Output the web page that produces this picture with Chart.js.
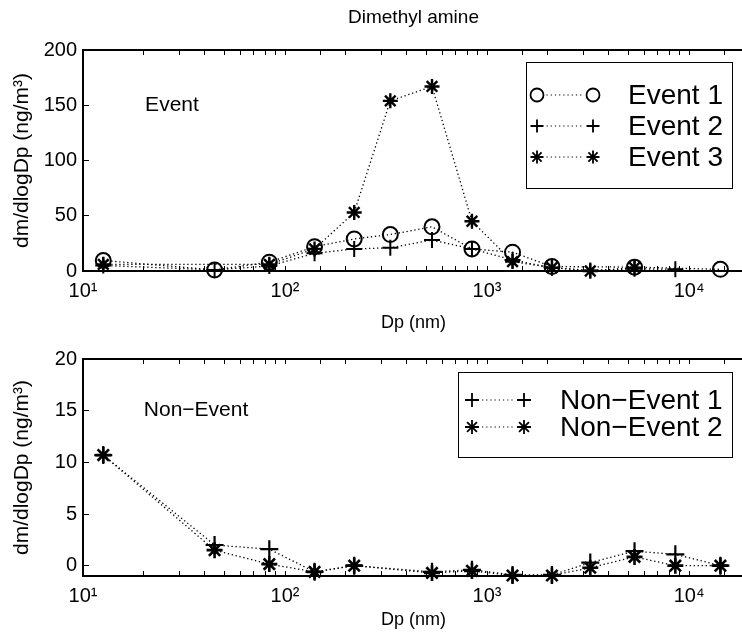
<!DOCTYPE html>
<html>
<head>
<meta charset="utf-8">
<script src="https://cdn.jsdelivr.net/npm/chart.js"></script>
<style>
  html, body { margin: 0; padding: 0; background: #fff; overflow: hidden; }
  #wrap { position: relative; width: 742px; height: 635px; overflow: hidden; }
  canvas { position: absolute; left: 0; }
  #topChart { top: 0; }
  #botChart { top: 335px; }
</style>
</head>
<body>
<div id="wrap">
  <canvas id="topChart" width="757" height="335"></canvas>
  <canvas id="botChart" width="757" height="300"></canvas>
</div>
<script>
// particle diameter (nm) of each stage
const dp = [12.6, 44.8, 83.6, 140, 220, 332, 534, 842, 1337, 2095, 3243, 5370, 8550, 14290];

// event days, dm/dlogDp (ng/m3)
const event1 = [9.5, 1, 8, 22, 29, 33, 40, 20, 17, 4, null, 3.5, null, 1.5];
const event2 = [5, 1, 4.5, 16, 20, 21, 28, 20, 10, 3, 0.5, 2, 1.5, null];
const event3 = [6, null, 6, 20, 53, 154, 167, 45, 8.5, 3, 0, 3, null, null];

// non-event days
const nonEvent1 = [10.7, 2.0, 1.6, -0.6, 0, null, -0.6, -0.4, -0.9, -0.9, 0.3, 1.4, 1.1, 0];
const nonEvent2 = [10.7, 1.5, 0.15, -0.6, 0, null, -0.7, -0.5, -0.95, -0.95, -0.2, 0.85, 0, 0];

// y tick labels of each panel
const yTicksTop = [0, 50, 100, 150, 200];
const yTicksBottom = [0, 5, 10, 15, 20];

const xMin = 10, xMax = 18700;
const family = "'Liberation Sans', Arial, Helvetica, sans-serif";
const sup = { 1: '\u00b9', 2: '\u00b2', 3: '\u00b3', 4: '\u2074' };

Chart.defaults.font.family = family;
Chart.defaults.color = '#000';

// legend drawn as a framed box with two markers joined by a dotted line
const frameLegend = {
  id: 'frameLegend',
  afterDraw(chart, args, o) {
    const { ctx, chartArea } = chart;
    const items = chart.data.datasets;
    ctx.save();
    ctx.font = o.size + 'px ' + family;
    const textW = Math.max(...items.map(d => ctx.measureText(d.label).width));
    const w = Math.round(o.padLeft + o.span + o.gap + textW + o.padRight);
    const h = o.padTop + o.rowH * (items.length - 1) + o.padBottom;
    const left = Math.round(chartArea.right - o.marginRight - w);
    const top = Math.round(chartArea.top + o.marginTop);
    ctx.fillStyle = '#fff';
    ctx.fillRect(left, top, w, h);
    ctx.strokeStyle = '#000';
    ctx.lineWidth = 1;
    ctx.strokeRect(left + 0.5, top + 0.5, w, h);
    items.forEach((d, i) => {
      const y = top + o.padTop + i * o.rowH;
      const x1 = left + o.padLeft, x2 = x1 + o.span;
      ctx.setLineDash([1.2, 3]);
      ctx.lineWidth = 1.2;
      ctx.beginPath();
      ctx.moveTo(x1 + o.markR + 3, y);
      ctx.lineTo(x2 - o.markR - 3, y);
      ctx.stroke();
      ctx.setLineDash([]);
      ctx.lineWidth = 1.8;
      ctx.fillStyle = 'rgba(0,0,0,0)';
      [x1, x2].forEach(x => Chart.helpers.drawPoint(ctx,
        { pointStyle: d.pointStyle, radius: o.markR, borderWidth: 1.8, rotation: 0 }, x, y));
      ctx.fillStyle = '#000';
      ctx.textAlign = 'left';
      ctx.textBaseline = 'middle';
      ctx.fillText(d.label, x2 + o.gap, y + 1);
    });
    ctx.restore();
  }
};

// text note placed at a data position
const note = {
  id: 'note',
  afterDatasetsDraw(chart, args, o) {
    const { ctx, scales } = chart;
    ctx.save();
    ctx.font = o.size + 'px ' + family;
    ctx.fillStyle = '#000';
    ctx.textAlign = 'left';
    ctx.textBaseline = 'middle';
    ctx.fillText(o.text, scales.x.getPixelForValue(o.x), scales.y.getPixelForValue(o.y));
    ctx.restore();
  }
};

function series(label, values, style, radius, width) {
  return {
    label,
    data: values,
    borderColor: '#000',
    borderWidth: 1.3,
    borderDash: [1.3, 2.7],
    pointStyle: style,
    pointRadius: radius,
    pointBorderWidth: width,
    pointBorderColor: '#000',
    pointBackgroundColor: 'rgba(0,0,0,0)',
    spanGaps: true,
    tension: 0,
    clip: false
  };
}

function xTick(v) {
  const e = Math.log10(v);
  const r = Math.round(e);
  return Math.abs(e - r) < 1e-9 && sup[r] ? '10' + sup[r] : '';
}

function makeChart(id, datasets, opt) {
  return new Chart(document.getElementById(id), {
    type: 'line',
    data: { labels: dp, datasets },
    options: {
      responsive: false,
      animation: false,
      events: [],
      layout: { padding: 0 },
      plugins: {
        legend: { display: false },
        tooltip: { enabled: false },
        frameLegend: opt.legend,
        note: opt.note
      },
      scales: {
        x: {
          type: 'logarithmic',
          position: 'bottom',
          min: xMin,
          max: xMax,
          border: { display: true, color: '#000', width: 2 },
          grid: { drawOnChartArea: false, drawTicks: true, tickLength: -5, tickColor: '#000', tickWidth: 1 },
          ticks: { autoSkip: false, maxRotation: 0, padding: 13, font: { size: 20 }, callback: xTick },
          title: { display: true, text: 'Dp (nm)', font: { size: 18 }, padding: { top: 0, bottom: opt.xTitlePad } },
          afterFit(s) { s.height = opt.xHeight; }
        },
        x2: {
          type: 'logarithmic',
          position: 'top',
          min: xMin,
          max: xMax,
          border: { display: true, color: '#000', width: 2 },
          grid: { drawOnChartArea: false, drawTicks: true, tickLength: -5, tickColor: '#000', tickWidth: 1 },
          ticks: { display: false, autoSkip: false },
          title: opt.title
            ? { display: true, text: opt.title, font: { size: 19 }, padding: { top: 6, bottom: 0 } }
            : { display: false },
          afterFit(s) { s.height = opt.topHeight; }
        },
        y: {
          type: 'linear',
          position: 'left',
          min: opt.yMin,
          max: opt.yMax,
          border: { display: true, color: '#000', width: 2 },
          grid: { drawOnChartArea: false, drawTicks: true, tickLength: -6, tickColor: '#000', tickWidth: 1 },
          ticks: { padding: 12, font: { size: 20 } },
          afterBuildTicks(s) { s.ticks = opt.yTicks.map(v => ({ value: v })); },
          title: { display: true, text: 'dm/dlogDp (ng/m\u00b3)', font: { size: 21 }, padding: { top: 10, bottom: 0 } },
          afterFit(s) { s.width = 83; }
        }
      }
    },
    plugins: [frameLegend, note]
  });
}

makeChart('topChart', [
  series('Event 1', event1, 'circle', 7.5, 2),
  series('Event 2', event2, 'cross', 8, 2),
  series('Event 3', event3, 'star', 7.5, 2.4)
], {
  title: 'Dimethyl amine',
  topHeight: 50,
  xHeight: 64,
  xTitlePad: 1,
  yMin: 0, yMax: 200, yTicks: yTicksTop,
  note: { text: 'Event', x: 20.3, y: 150, size: 21 },
  legend: { size: 28, markR: 6.5, padLeft: 11, span: 56, gap: 35, padRight: 9,
            padTop: 33, rowH: 31, padBottom: 31, marginTop: 12, marginRight: 12 }
});

makeChart('botChart', [
  series('Non\u2212Event 1', nonEvent1, 'cross', 9, 2.2),
  series('Non\u2212Event 2', nonEvent2, 'star', 8, 2.6)
], {
  title: null,
  topHeight: 19,
  xHeight: 59,
  xTitlePad: 4,
  yMin: -1, yMax: 20, yTicks: yTicksBottom,
  note: { text: 'Non\u2212Event', x: 20, y: 15, size: 21 },
  legend: { size: 28, markR: 7, padLeft: 14, span: 52, gap: 36, padRight: 9,
            padTop: 28, rowH: 27, padBottom: 30, marginTop: 13, marginRight: 12 }
});
</script>
</body>
</html>
